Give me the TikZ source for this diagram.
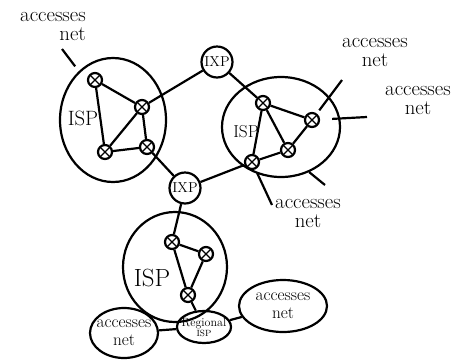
\documentclass[tikz,border=0pt]{standalone}
\usetikzlibrary{shapes.geometric}

\begin{document}
\begin{tikzpicture}[
  x=1pt, y=-1pt,
  line width=2.2pt,
  router/.style={circle, draw, minimum size=14pt, inner sep=0pt,
    path picture={\draw[line width=1.4pt]
      (path picture bounding box.north west) -- (path picture bounding box.south east)
      (path picture bounding box.north east) -- (path picture bounding box.south west);}},
  ixp/.style={circle, draw, minimum size=31pt, inner sep=0pt, font=\Large},
  isp/.style={ellipse, draw, inner sep=0pt},
  ispname/.style={font=\huge, inner sep=0pt},
  accnet/.style={ellipse, draw, inner sep=0pt},
  acctext/.style={font=\LARGE, align=center, inner sep=0pt},
  acclabel/.style={font=\huge, align=center, inner sep=0pt},
]
\useasboundingbox (0,0) rectangle (469,360);

% ISP clouds
\node[isp, minimum width=106pt, minimum height=124pt] (ispA) at (113,120) {};
\node[isp, minimum width=118pt, minimum height=100pt] (ispB) at (281,127) {};
\node[isp, minimum width=104pt, minimum height=110pt] (ispC) at (175,267) {};

\node[ispname] (ispAname) at (83,118) {ISP};
\node[ispname, font=\LARGE] (ispBname) at (246,132) {ISP};
\node[ispname, font=\Huge] (ispCname) at (152,278) {ISP};

% IXPs
\node[ixp] (ixpTop) at (217,62) {IXP};
\node[ixp] (ixpMid) at (185,188) {IXP};

% Routers
\node[router] (a1) at (95,80) {};
\node[router] (a2) at (142,107) {};
\node[router] (a3) at (105,152) {};
\node[router] (a4) at (147,147) {};
\node[router] (b1) at (263,103) {};
\node[router] (b2) at (312,120) {};
\node[router] (b3) at (288,150) {};
\node[router] (b4) at (252,162) {};
\node[router] (c1) at (172,242) {};
\node[router] (c2) at (206,254) {};
\node[router] (c3) at (188,295) {};

% Regional ISP and its access nets
\node[accnet, minimum width=54pt, minimum height=32pt] (reg) at (204,327) {};
\node[acctext, font=\large] (regtxt) at (reg) {Regional\\[-4pt]{\small ISP}};
\node[accnet, minimum width=68pt, minimum height=50pt] (accL) at (124,333) {};
\node[acctext] (accLtxt) at (accL) {accesses\\[-4pt]net};
\node[accnet, minimum width=88pt, minimum height=52pt] (accR) at (283,306) {};
\node[acctext] (accRtxt) at (accR) {accesses\\[-4pt]net};

% Links inside the ISPs
\draw (a1) -- (a2) (a1) -- (a3) (a2) -- (a3) (a3) -- (a4) (a2) -- (a4);
\draw (b1) -- (b2) (b1) -- (b3) (b1) -- (b4) (b2) -- (b3) (b3) -- (b4);
\draw (c1) -- (c2) (c2) -- (c3) (c1) -- (c3) (c3) -- (reg);

% Links through the IXPs
\draw (a2) -- (ixpTop) -- (b1);
\draw (a4) -- (ixpMid) -- (b4);
\draw (ixpMid) -- (c1);
\draw (reg) -- (accL) (reg) -- (accR);

% Access net stubs
\coordinate (tA) at (62,49);
\coordinate (tB1) at (342,80);
\coordinate (tB2) at (367,117);
\coordinate (tB3) at (325,185);
\coordinate (tB4) at (272,205);
\draw[shorten >=6pt] (tA) -- (ispA.125);
\draw[shorten <=4pt] (b2) -- (tB1);
\draw[shorten <=12pt] (b2) -- (tB2);
\draw (ispB.-58) -- (tB3);
\draw[shorten <=4pt] (b4) -- (tB4);

\node[acclabel, align=right] (lblA) at (53,26) {accesses\\[-6pt]net};
\node[acclabel] (lblB1) at (375,52) {accesses\\[-6pt]net};
\node[acclabel] (lblB2) at (418,100) {accesses\\[-6pt]net};
\node[acclabel] (lblB3) at (308,213) {accesses\\[-6pt]net};

\end{tikzpicture}
\end{document}
